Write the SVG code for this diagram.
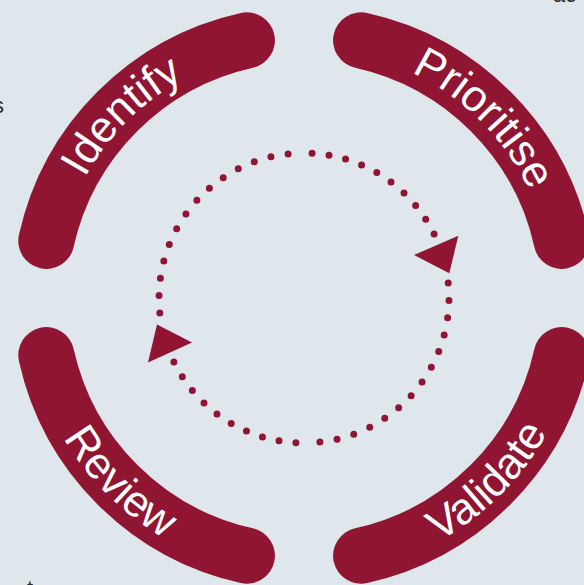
<svg xmlns="http://www.w3.org/2000/svg" width="584" height="585" viewBox="0 0 584 585">
  <style>
    .bg { fill: #e0e7ec; }
    .ring { fill: none; stroke: #8f1532; stroke-width: 56; stroke-linecap: round; }
    .label { fill: #ffffff; font-family: "Liberation Sans", Arial, sans-serif; font-size: 44px; }
    .dots { fill: none; stroke: #8f1532; stroke-width: 7; stroke-linecap: round; stroke-dasharray: 0 1; }
    .head { fill: #8f1532; }
    .edge { fill: #2b2b2b; font-family: "Liberation Sans", Arial, sans-serif; font-size: 22px; }
  </style>
  <defs>
    <path id="p-identify" d="M 88.8 422.25 A 248 248 0 0 1 428.25 82.8"/>
    <path id="p-prioritise" d="M 179.75 82.8 A 248 248 0 0 1 519.2 422.25"/>
    <path id="p-validate" d="M 164.25 540.05 A 280 280 0 0 0 546.05 158.25"/>
    <path id="p-review" d="M 61.95 158.25 A 280 280 0 0 0 443.75 540.05"/>
  </defs>
  <rect class="bg" x="0" y="0" width="584" height="585"/>

  <text class="edge" x="-7" y="113">s</text>
  <text class="edge" x="553" y="2">ac</text>
  <text class="edge" x="27" y="596">t</text>

  <g id="identify">
    <path class="ring" d="M 46.3 240.9 A 264 264 0 0 1 246.9 40.3"/>
    <text class="label" text-anchor="middle"><textPath href="#p-identify" startOffset="50%">Identify</textPath></text>
  </g>
  <g id="prioritise">
    <path class="ring" d="M 361.1 40.3 A 264 264 0 0 1 561.7 240.9"/>
    <text class="label" text-anchor="middle"><textPath href="#p-prioritise" startOffset="50%">Prioritise</textPath></text>
  </g>
  <g id="validate">
    <path class="ring" d="M 561.7 355.1 A 264 264 0 0 1 361.1 555.7"/>
    <text class="label" text-anchor="middle"><textPath href="#p-validate" startOffset="50%">Validate</textPath></text>
  </g>
  <g id="review">
    <path class="ring" d="M 246.9 555.7 A 264 264 0 0 1 46.3 355.1"/>
    <text class="label" text-anchor="middle"><textPath href="#p-review" startOffset="50%">Review</textPath></text>
  </g>

  <g id="connectors">
    <path class="dots" pathLength="9.001" d="M 312.1 153.2 A 145 145 0 0 1 434.1 234.0"/>
    <path class="dots" pathLength="13.001" d="M 448.2 283.1 A 145 145 0 0 1 319.9 442.1"/>
    <path class="dots" pathLength="9.001" d="M 295.9 442.8 A 145 145 0 0 1 173.9 362.0"/>
    <path class="dots" pathLength="13.001" d="M 159.8 312.9 A 145 145 0 0 1 288.1 153.9"/>
    <polygon class="head" points="414,255 458.3,235.7 449.3,273.3"/>
    <polygon class="head" points="192,342.5 148,362.5 157,324.5"/>
  </g>
</svg>
